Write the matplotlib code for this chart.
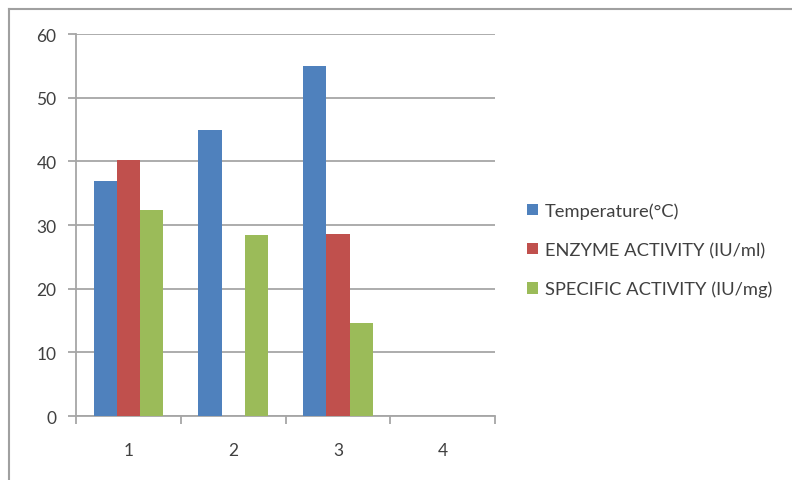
import numpy as np
import matplotlib.pyplot as plt
from matplotlib.lines import Line2D

# Datos
categorias = ['1', '2', '3', '4']
temperatura = [37, 45, 55, np.nan]
actividad_enzima = [40.3, np.nan, 28.6, np.nan]
actividad_especifica = [32.4, 28.4, 14.6, np.nan]

series = [
    ('Temperature(°C)', temperatura, '#4F81BD'),
    ('ENZYME ACTIVITY (IU/ml)', actividad_enzima, '#C0504D'),
    ('SPECIFIC ACTIVITY (IU/mg)', actividad_especifica, '#9BBB59'),
]

plt.rcParams['font.family'] = ['Lato', 'DejaVu Sans']

fig = plt.figure(figsize=(7.92, 4.81), dpi=100)
ax = fig.add_axes([0.096, 0.133, 0.529, 0.794])

x = np.arange(len(categorias))
ancho = 0.222
for i, (nombre, valores, color) in enumerate(series):
    ax.bar(x + (i - 1) * ancho, valores, ancho, color=color, label=nombre, zorder=3)

ax.set_xlim(-0.5, len(categorias) - 0.5)
ax.set_ylim(0, 60)
ax.set_yticks(range(0, 61, 10))
ax.set_xticks(x)
ax.set_xticklabels(categorias)
ax.set_xticks(np.arange(-0.5, len(categorias), 1), minor=True)

gris = '#A6A6A6'
ax.grid(axis='y', color=gris, linewidth=1.3, zorder=0)
for lado in ['top', 'right']:
    ax.spines[lado].set_visible(False)
for lado in ['left', 'bottom']:
    ax.spines[lado].set_color(gris)
    ax.spines[lado].set_linewidth(1.3)

ax.tick_params(axis='x', which='major', length=0, pad=19, labelsize=12.5, labelcolor='#404040')
ax.tick_params(axis='x', which='minor', length=6, color=gris, width=1.3)
ax.tick_params(axis='y', length=6, color=gris, width=1.3, pad=8, labelsize=12.5, labelcolor='#404040')

leg = ax.legend(loc='center left', bbox_to_anchor=(1.055, 0.435), frameon=False,
                fontsize=13.2, handlelength=0.6, handleheight=0.6, handletextpad=0.35,
                labelspacing=1.25, labelcolor='#404040', borderpad=0)

# Marco exterior de la figura
marco = '#A0A0A0'
fig.add_artist(Line2D([0.011, 1.0], [0.979, 0.979], transform=fig.transFigure, color=marco, linewidth=1.5))
fig.add_artist(Line2D([0.011, 0.011], [0.0, 0.979], transform=fig.transFigure, color=marco, linewidth=1.5))

fig.savefig('out.png', dpi=100, facecolor='white')
